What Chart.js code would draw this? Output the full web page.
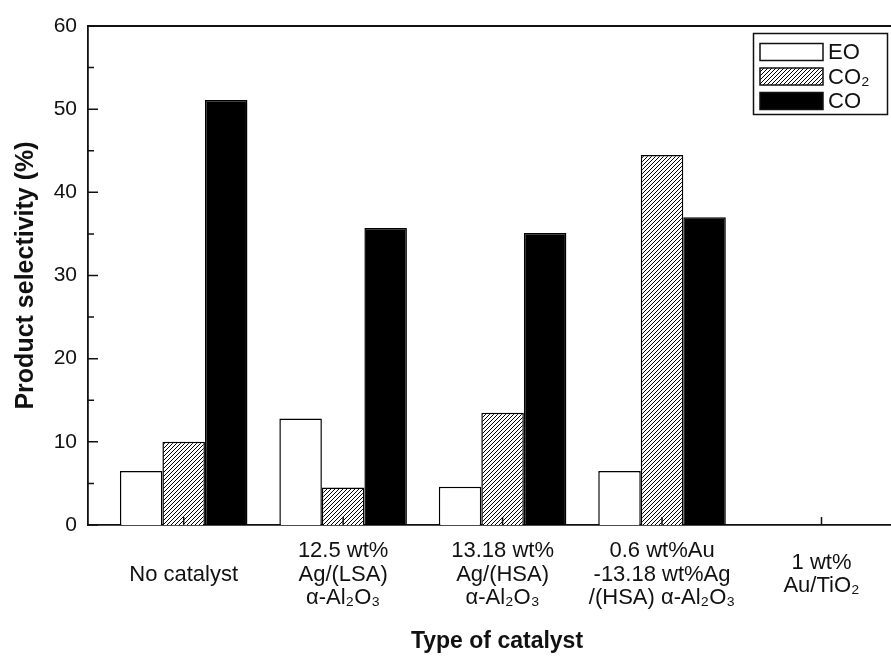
<!DOCTYPE html>
<html>
<head>
<meta charset="utf-8">
<script src="https://cdn.jsdelivr.net/npm/chart.js@4.4.1/dist/chart.umd.min.js"></script>
<style>
    html, body { margin: 0; padding: 0; background: #fff; overflow: hidden; }
    #wrap { width: 910px; height: 663px; }
</style>
</head>
<body>
<div id="wrap"><canvas id="grafica" width="910" height="663"></canvas></div>
<script>
// Selectividad de productos por tipo de catalizador (%)

// Categorías del eje x (una entrada por catalizador, multilínea)
const catalizadores = [
    'No catalyst',
    ['12.5 wt%', 'Ag/(LSA)', 'α-Al₂O₃'],
    ['13.18 wt%', 'Ag/(HSA)', 'α-Al₂O₃'],
    ['0.6 wt%Au', '-13.18 wt%Ag', '/(HSA) α-Al₂O₃'],
    ['1 wt%', 'Au/TiO₂']
];

// Valores (null = sin barra)
const selEO  = [6.5, 12.8, 4.6, 6.5, null];
const selCO2 = [10.0, 4.5, 13.5, 44.5, null];
const selCO  = [51.1, 35.7, 35.1, 37.0, null];

const nombresSeries = ['EO', 'CO₂', 'CO'];
const ticksY = [0, 10, 20, 30, 40, 50, 60];

const TINTA = '#111';
Chart.defaults.font.family = '"Liberation Sans", Arial, Helvetica, sans-serif';
Chart.defaults.color = TINTA;

// Rayado diagonal para CO2
function crearRayado() {
    const c = document.createElement('canvas');
    c.width = 4; c.height = 4;
    const g = c.getContext('2d');
    g.fillStyle = '#fff';
    g.fillRect(0, 0, 4, 4);
    g.strokeStyle = '#000';
    g.lineWidth = 1;
    g.beginPath();
    g.moveTo(0, 4); g.lineTo(4, 0);
    g.moveTo(-1, 1); g.lineTo(1, -1);
    g.moveTo(3, 5); g.lineTo(5, 3);
    g.stroke();
    return g.createPattern(c, 'repeat');
}
const rayado = crearRayado();

function aPuntos(valores) {
    return valores.map((v, i) => ({ x: i + 1, y: v }));
}

// Marco superior y marcas de los ejes hacia adentro
const marcoPlugin = {
    id: 'marco',
    afterDatasetsDraw(chart) {
        const { ctx, chartArea: a, scales: { x, y } } = chart;
        ctx.save();
        ctx.strokeStyle = TINTA;
        ctx.lineWidth = 1.8;
        ctx.beginPath();
        ctx.moveTo(a.left, a.top);
        ctx.lineTo(a.right, a.top);
        ctx.stroke();
        ctx.lineWidth = 1.5;
        ctx.beginPath();
        for (let v = y.min; v <= y.max; v += 5) {
            const py = y.getPixelForValue(v);
            const largo = v % 10 === 0 ? 10 : 6;
            ctx.moveTo(a.left, py);
            ctx.lineTo(a.left + largo, py);
        }
        x.ticks.forEach(t => {
            const px = x.getPixelForValue(t.value);
            ctx.moveTo(px, a.bottom);
            ctx.lineTo(px, a.bottom - 8);
        });
        ctx.stroke();
        ctx.restore();
    }
};

// Leyenda dentro del área, arriba a la derecha
const leyendaPlugin = {
    id: 'leyenda',
    afterDraw(chart) {
        const ctx = chart.ctx;
        ctx.save();
        ctx.strokeStyle = TINTA;
        ctx.lineWidth = 1.5;
        ctx.strokeRect(753.5, 33.5, 134, 81);
        chart.data.datasets.forEach((ds, i) => {
            const cy = 52 + i * 24.5;
            ctx.fillStyle = ds.backgroundColor;
            ctx.fillRect(760, cy - 8.5, 63, 17);
            ctx.strokeRect(760, cy - 8.5, 63, 17);
            ctx.fillStyle = TINTA;
            ctx.font = '22px "Liberation Sans", Arial, sans-serif';
            ctx.textBaseline = 'middle';
            ctx.fillText(ds.label, 828, cy + 1);
        });
        ctx.restore();
    }
};

const estiloBarra = { borderColor: '#000', borderWidth: 1.5, categoryPercentage: 0.8, barPercentage: 1.0 };

new Chart(document.getElementById('grafica'), {
    type: 'bar',
    data: {
        datasets: [
            { label: nombresSeries[0], data: aPuntos(selEO), backgroundColor: '#fff', ...estiloBarra },
            { label: nombresSeries[1], data: aPuntos(selCO2), backgroundColor: rayado, ...estiloBarra },
            { label: nombresSeries[2], data: aPuntos(selCO), backgroundColor: '#000', ...estiloBarra }
        ]
    },
    options: {
        responsive: false,
        animation: false,
        layout: { padding: { top: 26, right: 4, bottom: 0, left: 0 } },
        plugins: {
            legend: { display: false },
            tooltip: { enabled: false }
        },
        scales: {
            x: {
                type: 'linear',
                offset: false,
                min: 0.4,
                max: 5.53,
                afterBuildTicks: s => { s.ticks = catalizadores.map((_, i) => ({ value: i + 1 })); },
                afterFit: s => { s.height = 138; },
                grid: { display: false, drawTicks: false, offset: false },
                border: { display: true, color: TINTA, width: 1.8 },
                ticks: {
                    autoSkip: false,
                    maxRotation: 0,
                    minRotation: 0,
                    crossAlign: 'center',
                    padding: 26,
                    color: TINTA,
                    font: { size: 22, lineHeight: 1.07 },
                    callback: v => catalizadores[v - 1]
                },
                title: {
                    display: true,
                    text: 'Type of catalyst',
                    color: TINTA,
                    font: { size: 23, weight: 'bold', lineHeight: 1.2 },
                    padding: { top: 0, bottom: 8 }
                }
            },
            y: {
                min: 0,
                max: 60,
                afterBuildTicks: s => { s.ticks = ticksY.map(v => ({ value: v })); },
                afterFit: s => { s.width = 88; },
                grid: { display: false, drawTicks: false },
                border: { display: true, color: TINTA, width: 1.8 },
                ticks: { padding: 11, color: TINTA, font: { size: 21 } },
                title: {
                    display: true,
                    text: 'Product selectivity (%)',
                    color: TINTA,
                    font: { size: 25, weight: 'bold', lineHeight: 1.2 },
                    padding: { top: 11, bottom: 0 }
                }
            }
        }
    },
    plugins: [marcoPlugin, leyendaPlugin]
});
</script>
</body>
</html>
